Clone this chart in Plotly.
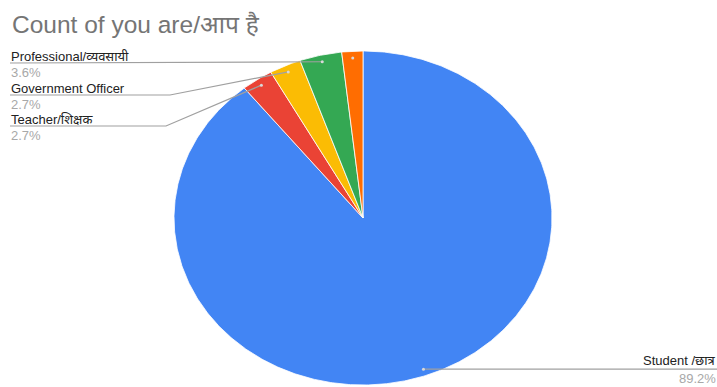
import numpy as np
import plotly.graph_objects as go

# Respondent counts per occupation
labels = ["Student /छात्र", "Teacher/शिक्षक", "Government Officer", "Professional/व्यवसायी", "Other"]
counts = [99, 3, 3, 4, 2]
colors = ["#4285F4", "#EA4335", "#FBBC04", "#34A853", "#FF6D01"]
title_text = "Count of you are/आप है"

W, H = 717, 387
cx, cy, rx, ry = 363, 218, 189, 167  # pie centre and radii (canvas units)
FONT = "'Liberation Sans', Arial, 'Noto Sans', sans-serif"

total = sum(counts)
fracs = [c / total for c in counts]
cum = np.concatenate([[0.0], np.cumsum(fracs)])


def pt(turn, r=1.0):
    """Point on the (elliptical) pie at a fraction of a turn, clockwise from 12 o'clock."""
    a = 2 * np.pi * turn
    return cx + r * rx * np.sin(a), cy - r * ry * np.cos(a)


fig = go.Figure()

# slices
for i, (lab, c, col) in enumerate(zip(labels, counts, colors)):
    t = np.linspace(cum[i], cum[i + 1], max(int(fracs[i] * 720), 6))
    xs, ys = pt(t)
    xs = np.concatenate([[cx], xs, [cx]])
    ys = np.concatenate([[cy], ys, [cy]])
    fig.add_trace(go.Scatter(
        x=xs, y=ys, mode="lines", fill="toself", fillcolor=col,
        line=dict(color="white", width=0.8), hoverinfo="text",
        text=f"{lab}: {c} ({fracs[i]*100:.1f}%)", showlegend=False,
    ))

# leader lines and labels
mid = (cum[:-1] + cum[1:]) / 2
dots = [pt(m, 0.96) for m in mid]
LINE = "#a0a0a0"

# left-hand labels: (index, elbow x, line y)
left = [(3, None, 63), (2, 170, 95), (1, 166, 126)]
annotations = []
for idx, ex, ly in left:
    dx, dy = dots[idx]
    if ex is None:
        lx, lyy = [10, dx], [ly, dy]
    else:
        lx, lyy = [10, ex, dx], [ly, ly, dy]
    fig.add_trace(go.Scatter(x=lx, y=lyy, mode="lines", line=dict(color=LINE, width=1.2),
                             hoverinfo="skip", showlegend=False))
    annotations.append(dict(x=10, y=ly - 6.5, text=labels[idx], xanchor="left", yanchor="middle",
                            borderpad=0, font=dict(size=13, color="#222222", family=FONT)))
    annotations.append(dict(x=10, y=ly + 9.5, text=f"{fracs[idx]*100:.1f}%", xanchor="left",
                            yanchor="middle", borderpad=0,
                            font=dict(size=13, color="#a8a8a8", family=FONT)))

# right-hand label for the largest slice
sx, sy = dots[0]
fig.add_trace(go.Scatter(x=[sx, W], y=[sy, sy], mode="lines", line=dict(color=LINE, width=1.2),
                         hoverinfo="skip", showlegend=False))
annotations.append(dict(x=W, y=sy - 9, text=labels[0], xanchor="right", yanchor="middle",
                        borderpad=0, font=dict(size=13, color="#222222", family=FONT)))
annotations.append(dict(x=W, y=sy + 9, text=f"{fracs[0]*100:.1f}%", xanchor="right",
                        yanchor="middle", borderpad=0,
                        font=dict(size=13, color="#a8a8a8", family=FONT)))

# slice markers
fig.add_trace(go.Scatter(x=[d[0] for d in dots], y=[d[1] for d in dots], mode="markers",
                         marker=dict(size=3, color="#d8d8d8"), hoverinfo="skip", showlegend=False))

# title
annotations.append(dict(x=10, y=24, text=title_text, xanchor="left", yanchor="middle",
                        font=dict(size=24.5, color="#757575", family=FONT)))

for a in annotations:
    a.update(xref="x", yref="y", showarrow=False)

fig.update_layout(
    width=W, height=H, margin=dict(l=0, r=0, t=0, b=0),
    paper_bgcolor="white", plot_bgcolor="white",
    xaxis=dict(range=[0, W], visible=False, fixedrange=True),
    yaxis=dict(range=[H, 0], visible=False, fixedrange=True),
    annotations=annotations, showlegend=False,
)

fig.write_html("out.html")
